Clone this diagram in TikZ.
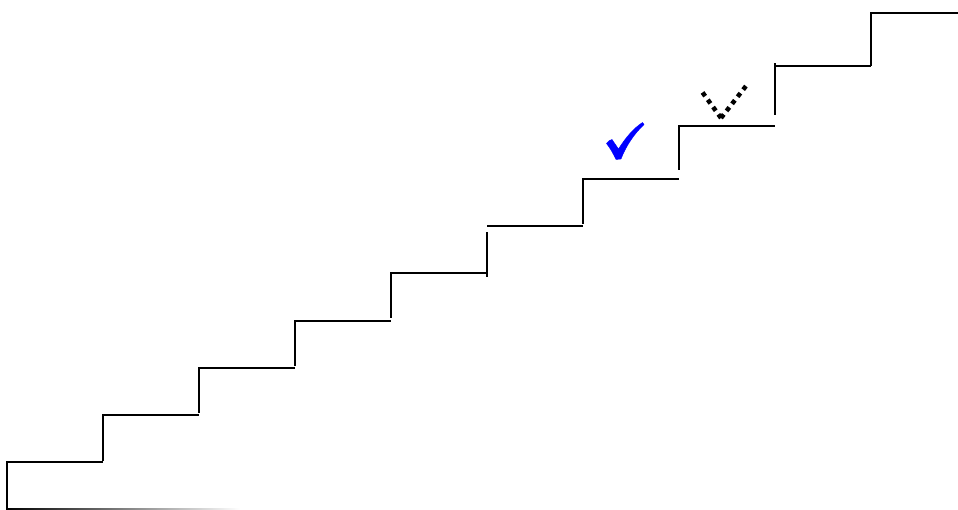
\documentclass[tikz,border=0pt]{standalone}
\begin{document}
\begin{tikzpicture}[x=1pt,y=-1pt,
  stair/.style={line width=2pt, line cap=butt, line join=miter, black},
  dotv/.style={line width=4.5pt, dash pattern=on 4.5pt off 4.5pt, black},
  checkmark/.style={fill=blue, draw=blue, line width=0.4pt, line join=round}]
\useasboundingbox (0,0) rectangle (958,510);
% bottom fading line
\shade[left color=black, right color=white] (6,508) rectangle (240,510.5);
% steps
\draw[stair] (7,509) -- (7,462) -- (103,462);
\draw[stair] (103,461) -- (103,415) -- (199,415);
\draw[stair] (199,413) -- (199,368) -- (295,368);
\draw[stair] (295,366) -- (295,321) -- (391,321);
\draw[stair] (391,318) -- (391,273) -- (487,273);
\draw[stair] (487,277) -- (487,232);
\draw[stair] (487,226) -- (583,226);
\draw[stair] (583,224) -- (583,179) -- (679,179);
\draw[stair] (679,170) -- (679,126) -- (775,126);
\draw[stair] (775,115) -- (775,63);
\draw[stair] (775,66.5) -- (871,66.5);
\draw[stair] (871,66.5) -- (871,13) -- (958,13);
% check mark
\fill[checkmark] (606.5,143.5) .. controls (608,141) and (610,140) .. (612,139.5)
  -- (618.5,149) .. controls (626,137) and (634,128) .. (642.5,122.5)
  -- (644,124.5) .. controls (634,134) and (626,146) .. (621,159)
  -- (616,159.5) .. controls (613,153) and (610,148) .. cycle;
% dotted V
\coordinate (va) at (700,89);
\coordinate (vb) at (721,118);
\coordinate (vc) at (746,86);
\draw[dotv] (vb) -- (va);
\draw[dotv] (vb) -- (vc);
\end{tikzpicture}
\end{document}
